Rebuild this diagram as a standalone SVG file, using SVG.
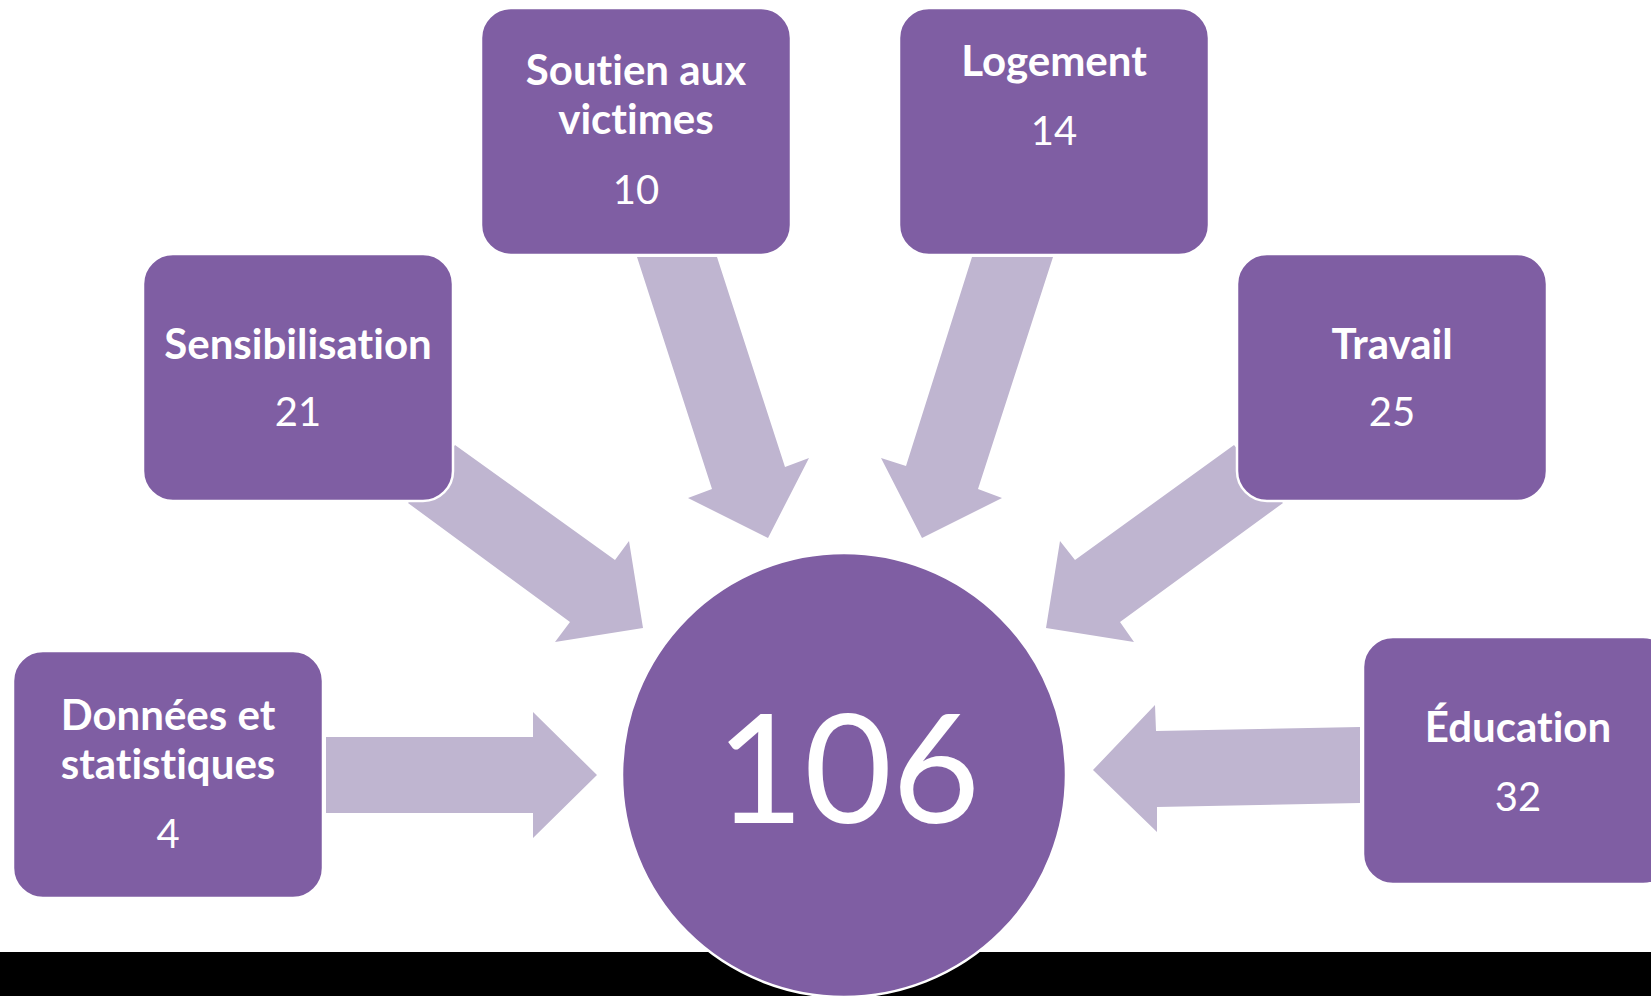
<svg xmlns="http://www.w3.org/2000/svg" width="1651" height="996" viewBox="0 0 1651 996">
<style>
.box{fill:#7F5EA3;stroke:#FFFFFF;stroke-width:2.5}
.arrow{fill:#BFB5D0;stroke:none}
.hub{fill:#7F5EA3;stroke:#FFFFFF;stroke-width:2.5}
text{font-variant-ligatures:none;font-feature-settings:"liga" 0,"clig" 0}
.t{font-family:Lato,"Open Sans","Liberation Sans",sans-serif;font-weight:700;font-size:42px;fill:#FFFFFF;text-anchor:middle}
.n{font-family:Lato,"Open Sans","Liberation Sans",sans-serif;font-weight:400;font-size:40px;fill:#FFFFFF;text-anchor:middle}
.big{font-family:Lato,"Open Sans","Liberation Sans",sans-serif;font-weight:400;font-size:152px;fill:#FFFFFF;text-anchor:middle}
</style>
<rect x="0" y="0" width="1651" height="996" fill="#FFFFFF"/>
<rect x="0" y="952" width="1651" height="44" fill="#000000"/>
<g id="connectors">
<polygon class="arrow" points="326,737 533,737 533,712 597,775 533,838 533,813 326,813"/>
<polygon class="arrow" points="455,445 615,560 629,541 643,628 555,642 570,622 408,503"/>
<polygon class="arrow" points="637,257 717,257 785,467 809,458 768,538 688,498 712,489"/>
<polygon class="arrow" points="972,257 1053,257 978,489 1002,498 922,538 881,458 906,466"/>
<polygon class="arrow" points="1234,445 1283,503 1120,622 1134,642 1046,628 1060,541 1075,560"/>
<polygon class="arrow" points="1360,727 1360,803 1157,807 1157,832 1093,770 1155,705 1156,731"/>
</g>
<g id="hub">
<circle class="hub" cx="844" cy="775" r="222"/>
<text class="big" x="848" y="823">106</text>
</g>
<g id="node-donnees">
<rect class="box" x="13" y="651" width="310" height="247" rx="30"/>
<text class="t" x="168" y="730">Données et</text>
<text class="t" x="168" y="779">statistiques</text>
<text class="n" x="168" y="848">4</text>
</g>
<g id="node-sensibilisation">
<rect class="box" x="143" y="254" width="310" height="247" rx="30"/>
<text class="t" x="298" y="359">Sensibilisation</text>
<text class="n" x="298" y="426">21</text>
</g>
<g id="node-soutien">
<rect class="box" x="481" y="8" width="310" height="247" rx="30"/>
<text class="t" x="636" y="85">Soutien aux</text>
<text class="t" x="636" y="134">victimes</text>
<text class="n" x="636" y="204">10</text>
</g>
<g id="node-logement">
<rect class="box" x="899" y="8" width="310" height="247" rx="30"/>
<text class="t" x="1054" y="76">Logement</text>
<text class="n" x="1054" y="145">14</text>
</g>
<g id="node-travail">
<rect class="box" x="1237" y="254" width="310" height="247" rx="30"/>
<text class="t" x="1392" y="359">Travail</text>
<text class="n" x="1392" y="426">25</text>
</g>
<g id="node-education">
<rect class="box" x="1363" y="637" width="310" height="247" rx="30"/>
<text class="t" x="1518" y="742">Éducation</text>
<text class="n" x="1518" y="811">32</text>
</g>
</svg>
